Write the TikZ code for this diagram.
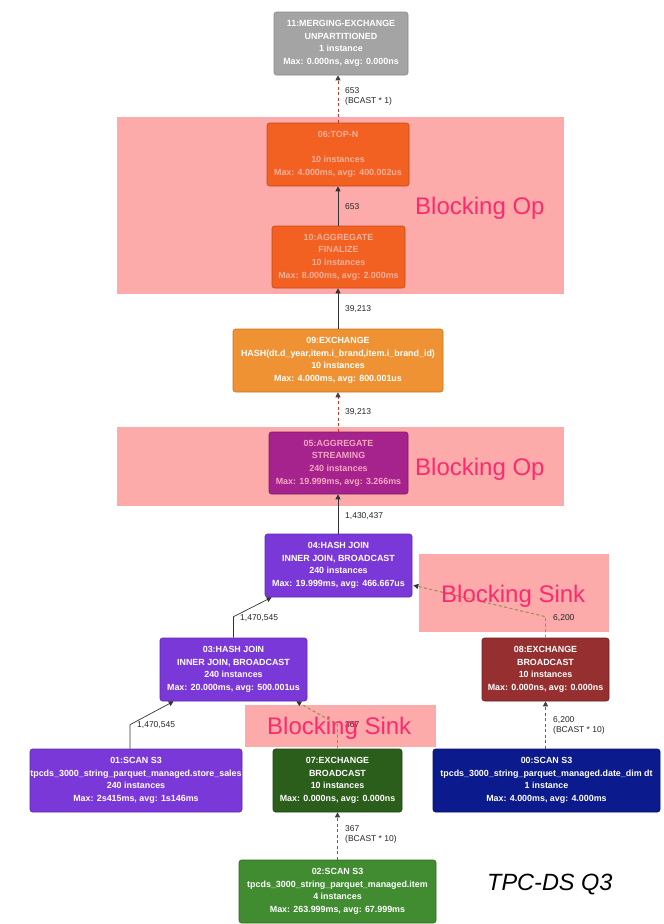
\documentclass[tikz,border=0pt]{standalone}
\usepackage{fontspec}
\setmainfont{Liberation Sans}
\usetikzlibrary{arrows.meta,calc}
\definecolor{pinkbg}{HTML}{FDAAAA}
\definecolor{pinktxt}{HTML}{FF2A6D}
\definecolor{cgray}{HTML}{A4A4A4}\definecolor{cgrayd}{HTML}{8A8A8A}
\definecolor{corange}{HTML}{F26122}\definecolor{coranged}{HTML}{C44A16}
\definecolor{corange2}{HTML}{EF9234}\definecolor{corange2d}{HTML}{C77522}
\definecolor{cmag}{HTML}{A6238D}\definecolor{cmagd}{HTML}{7E1A6B}
\definecolor{cpurple}{HTML}{7B38D9}\definecolor{cpurpled}{HTML}{5F28AE}
\definecolor{cdred}{HTML}{962F2F}\definecolor{cdredd}{HTML}{6E2020}
\definecolor{cdgreen}{HTML}{2C5E1B}\definecolor{cdgreend}{HTML}{1E4212}
\definecolor{cnavy}{HTML}{0B1A8C}\definecolor{cnavyd}{HTML}{07106A}
\definecolor{cgreen}{HTML}{418B31}\definecolor{cgreend}{HTML}{2F6A22}
\definecolor{redline}{HTML}{C0392B}
\definecolor{greenline}{HTML}{7FAE4A}
\definecolor{tanline}{HTML}{A88A58}
\definecolor{solidline}{HTML}{333333}
\definecolor{peachtxt}{HTML}{F7B09A}
\definecolor{magtxt}{HTML}{F2A6C0}
\begin{document}
\begin{tikzpicture}[x=1pt,y=-1pt,
  opnode/.style={draw, rounded corners=2.5pt, line width=0.6pt, inner sep=0pt,
    align=center, text=white, font=\fontsize{8.9}{12.6}\selectfont\bfseries},
  lbl/.style={font=\fontsize{8.5}{10}\selectfont, anchor=west, align=left, inner sep=0pt, text=black!85},
  region/.style={fill=pinkbg, draw=none},
  bigtxt/.style={font=\fontsize{24}{24}\selectfont, text=pinktxt, inner sep=0pt, anchor=base west},
  redge/.style={draw=redline, line width=0.8pt, dash pattern=on 3pt off 2.5pt,
    -{Triangle[length=5pt,width=5pt,color=black!75]}},
  gedge/.style={draw=greenline, line width=0.8pt, dash pattern=on 3pt off 2.5pt,
    -{Triangle[length=5pt,width=5pt,color=black!80]}},
  tedge/.style={draw=tanline, line width=0.8pt, dash pattern=on 3pt off 2.5pt},
  sedge/.style={draw=solidline, line width=0.7pt,
    -{Triangle[length=5pt,width=5pt,color=black!80]}}]
\useasboundingbox (0,0) rectangle (664,924);
\fill[white] (0,0) rectangle (664,924);

% pink regions (behind)
\path[region] (117,117) rectangle (564,294);
\path[region] (117,427) rectangle (564,506);
\path[region] (419,554) rectangle (609,632);
\path[region] (245,705) rectangle (436,747);
\node[bigtxt] (bo1) at (415,214) {Blocking Op};
\node[bigtxt] (bo2) at (415,475) {Blocking Op};

% nodes
\node[opnode, fill=cgray, draw=cgrayd, minimum width=134pt, minimum height=63pt] (n11) at (341,43.5)
  {11:MERGING-EXCHANGE\\UNPARTITIONED\\1 instance\\Max: 0.000ns, avg: 0.000ns};
\node[opnode, fill=corange, draw=coranged, text=peachtxt, minimum width=142pt, minimum height=63pt] (n06) at (338,154.5)
  {06:TOP-N\\\strut\\10 instances\\Max: 4.000ms, avg: 400.002us};
\node[opnode, fill=corange, draw=coranged, text=peachtxt, minimum width=133pt, minimum height=62pt] (n10) at (338.5,257)
  {10:AGGREGATE\\FINALIZE\\10 instances\\Max: 8.000ms, avg: 2.000ms};
\node[opnode, fill=corange2, draw=corange2d, minimum width=210pt, minimum height=63pt] (n09) at (338,360.5)
  {09:EXCHANGE\\HASH(dt.d\_year,item.i\_brand,item.i\_brand\_id)\\10 instances\\Max: 4.000ms, avg: 800.001us};
\node[opnode, fill=cmag, draw=cmagd, text=magtxt, minimum width=139pt, minimum height=62pt] (n05) at (338.5,463)
  {05:AGGREGATE\\STREAMING\\240 instances\\Max: 19.999ms, avg: 3.266ms};
\node[opnode, fill=cpurple, draw=cpurpled, minimum width=147pt, minimum height=63pt] (n04) at (338.5,565.5)
  {04:HASH JOIN\\INNER JOIN, BROADCAST\\240 instances\\Max: 19.999ms, avg: 466.667us};
\node[opnode, fill=cpurple, draw=cpurpled, minimum width=147pt, minimum height=63pt] (n03) at (233.5,669.5)
  {03:HASH JOIN\\INNER JOIN, BROADCAST\\240 instances\\Max: 20.000ms, avg: 500.001us};
\node[opnode, fill=cdred, draw=cdredd, minimum width=127pt, minimum height=63pt] (n08) at (545.5,669.5)
  {08:EXCHANGE\\BROADCAST\\10 instances\\Max: 0.000ns, avg: 0.000ns};
\node[opnode, fill=cpurple, draw=cpurpled, minimum width=212pt, minimum height=63pt] (n01) at (136,780.5)
  {01:SCAN S3\\tpcds\_3000\_string\_parquet\_managed.store\_sales\\240 instances\\Max: 2s415ms, avg: 1s146ms};
\node[opnode, fill=cdgreen, draw=cdgreend, minimum width=129pt, minimum height=63pt] (n07) at (337.5,780.5)
  {07:EXCHANGE\\BROADCAST\\10 instances\\Max: 0.000ns, avg: 0.000ns};
\node[opnode, fill=cnavy, draw=cnavyd, minimum width=227pt, minimum height=63pt] (n00) at (546.5,780.5)
  {00:SCAN S3\\tpcds\_3000\_string\_parquet\_managed.date\_dim dt\\1 instance\\Max: 4.000ms, avg: 4.000ms};
\node[opnode, fill=cgreen, draw=cgreend, minimum width=197pt, minimum height=63pt] (n02) at (337.5,891.5)
  {02:SCAN S3\\tpcds\_3000\_string\_parquet\_managed.item\\4 instances\\Max: 263.999ms, avg: 67.999ms};

% edges
\draw[redge] (n06.north) -- (n11.south -| n06.north);
\draw[sedge] (n10.north -| n06.south) -- (n06.south);
\draw[sedge] (n09.north -| n06.south) -- (n10.south -| n06.south);
\draw[redge] (n05.north -| n06.south) -- (n09.south -| n06.south);
\draw[sedge] (n04.north -| n06.south) -- (n05.south -| n06.south);
\draw[sedge] (n03.north) -- ++(0,-21) -- ($(n04.south west)+(7,0)$);
\draw[gedge] (n08.north) -- ++(0,-21) -- ($(n04.south east)+(1,-12)$);
\draw[sedge] ($(n01.north)+(-6,0)$) -- ++(0,-24) -- ($(n03.south west)+(14,0)$);
\draw[gedge] (n07.north) -- ++(0,-24) -- ($(n03.south east)+(-11,0)$);
\draw[redge] (n00.north -| n08.north) -- (n08.south);
\draw[redge] (n02.north -| n07.north) -- (n07.south);

% green edges seen through the pink sink regions
\begin{scope}
  \clip (419,554) rectangle (609,632) (245,705) rectangle (436,747);
  \draw[tedge] (n08.north) -- ++(0,-21) -- ($(n04.south east)+(1,-12)$);
  \draw[tedge] (n07.north) -- ++(0,-24) -- ($(n03.south east)+(-11,0)$);
\end{scope}

% edge labels
\node[lbl] (l11) at (345,96) {653\\(BCAST * 1)};
\node[lbl] (l06) at (345,207) {653};
\node[lbl] (l10) at (345,309) {39,213};
\node[lbl] (l09) at (345,412) {39,213};
\node[lbl] (l05) at (345,516) {1,430,437};
\node[lbl] (l04a) at (240,618) {1,470,545};
\node[lbl] (l04b) at (553,618) {6,200};
\node[lbl] (l03a) at (137,725) {1,470,545};
\node[lbl] (l03b) at (345,725) {367};
\node[lbl] (l08) at (553,725) {6,200\\(BCAST * 10)};
\node[lbl] (l07) at (345,834) {367\\(BCAST * 10)};

% Blocking Sink texts (over edges)
\node[bigtxt] (bs1) at (441,602) {Blocking Sink};
\node[bigtxt] (bs2) at (267,734) {Blocking Sink};

\node[font=\fontsize{23.5}{24}\selectfont\itshape, inner sep=0pt, anchor=base west] (title) at (487,890) {TPC-DS Q3};
\end{tikzpicture}
\end{document}
